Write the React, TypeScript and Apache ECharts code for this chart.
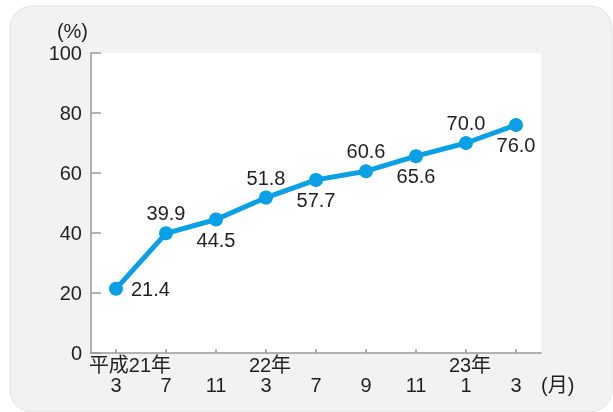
import React, { useEffect, useRef } from "react";
import * as echarts from "echarts";

const categories = ["3", "7", "11", "3", "7", "9", "11", "1", "3"];
const yearLabels = ["平成21年", "", "", "22年", "", "", "", "23年", ""];
const values = [21.4, 39.9, 44.5, 51.8, 57.7, 60.6, 65.6, 70.0, 76.0];
const labelPositions = ["right", "top", "bottom", "top", "bottom", "top", "bottom", "top", "bottom"];
const yTicks = { min: 0, max: 100, interval: 20 };

const FONT = "'Liberation Sans', 'Noto Sans CJK JP', sans-serif";
const BLUE = "#0aa0e6";
const AXIS = "#9a9a9a";
const TEXT = "#231f20";

export default function App() {
  const ref = useRef<HTMLDivElement>(null);

  useEffect(() => {
    if (!ref.current) return;
    const chart = echarts.init(ref.current, null, { renderer: "svg" });

    const data = values.map((v, i) => ({
      value: v,
      label: {
        position: labelPositions[i],
        distance: labelPositions[i] === "right" ? 8 : 3,
      },
    }));

    chart.setOption({
      animation: false,
      textStyle: { fontFamily: FONT },
      graphic: [
        {
          type: "rect",
          z: -10,
          silent: true,
          shape: { x: 10, y: 6, width: 602, height: 406, r: 22 },
          style: {
            fill: "#f2f2f2",
            stroke: "#e2e2e2",
            lineWidth: 1,
          },
        },
        {
          type: "text",
          x: 88,
          y: 31,
          style: {
            text: "(%)",
            fontSize: 20,
            fontFamily: FONT,
            fill: TEXT,
            align: "right",
            verticalAlign: "middle",
          },
        },
        {
          type: "text",
          x: 541,
          y: 385,
          style: {
            text: "(月)",
            fontSize: 20,
            fontFamily: FONT,
            fill: TEXT,
            align: "left",
            verticalAlign: "middle",
          },
        },
      ],
      grid: {
        left: 91,
        top: 53,
        width: 450,
        height: 300,
        show: true,
        backgroundColor: "#ffffff",
        borderWidth: 0,
      },
      xAxis: {
        type: "category",
        data: categories,
        boundaryGap: true,
        axisLine: { show: true, lineStyle: { color: AXIS, width: 1.5 } },
        axisTick: {
          show: true,
          inside: true,
          alignWithLabel: true,
          length: 4,
          lineStyle: { color: AXIS, width: 1.5 },
        },
        axisLabel: {
          interval: 0,
          margin: 2,
          color: TEXT,
          fontSize: 20,
          lineHeight: 20,
          formatter: (value: string, index: number) => {
            const y = yearLabels[index];
            if (y) {
              return `{${index === 0 ? "y0" : "y1"}|${y}}\n{m|${value}}`;
            }
            return `{e| }\n{m|${value}}`;
          },
          rich: {
            y0: { fontSize: 20, lineHeight: 20, color: TEXT, fontFamily: FONT, padding: [0, 0, 0, 28] },
            y1: { fontSize: 20, lineHeight: 20, color: TEXT, fontFamily: FONT, padding: [0, 0, 0, 8] },
            m: { fontSize: 20, lineHeight: 20, color: TEXT, fontFamily: FONT },
            e: { fontSize: 20, lineHeight: 20, color: TEXT, fontFamily: FONT },
          },
        },
        splitLine: { show: false },
      },
      yAxis: {
        type: "value",
        min: yTicks.min,
        max: yTicks.max,
        interval: yTicks.interval,
        axisLine: { show: true, lineStyle: { color: AXIS, width: 1.5 } },
        axisTick: {
          show: true,
          inside: true,
          length: 10,
          lineStyle: { color: AXIS, width: 1.5 },
        },
        axisLabel: {
          margin: 9,
          color: TEXT,
          fontSize: 20,
          fontFamily: FONT,
        },
        splitLine: { show: false },
      },
      series: [
        {
          type: "line",
          data,
          symbol: "circle",
          symbolSize: 14,
          lineStyle: { color: BLUE, width: 5 },
          itemStyle: { color: BLUE },
          label: {
            show: true,
            fontSize: 20,
            fontFamily: FONT,
            color: TEXT,
            formatter: (p: any) => Number(p.value).toFixed(1),
          },
        },
      ],
    });

    return () => chart.dispose();
  }, []);

  return (
    <div
      ref={ref}
      style={{ position: "fixed", left: 0, top: 0, width: 613, height: 412 }}
    />
  );
}
